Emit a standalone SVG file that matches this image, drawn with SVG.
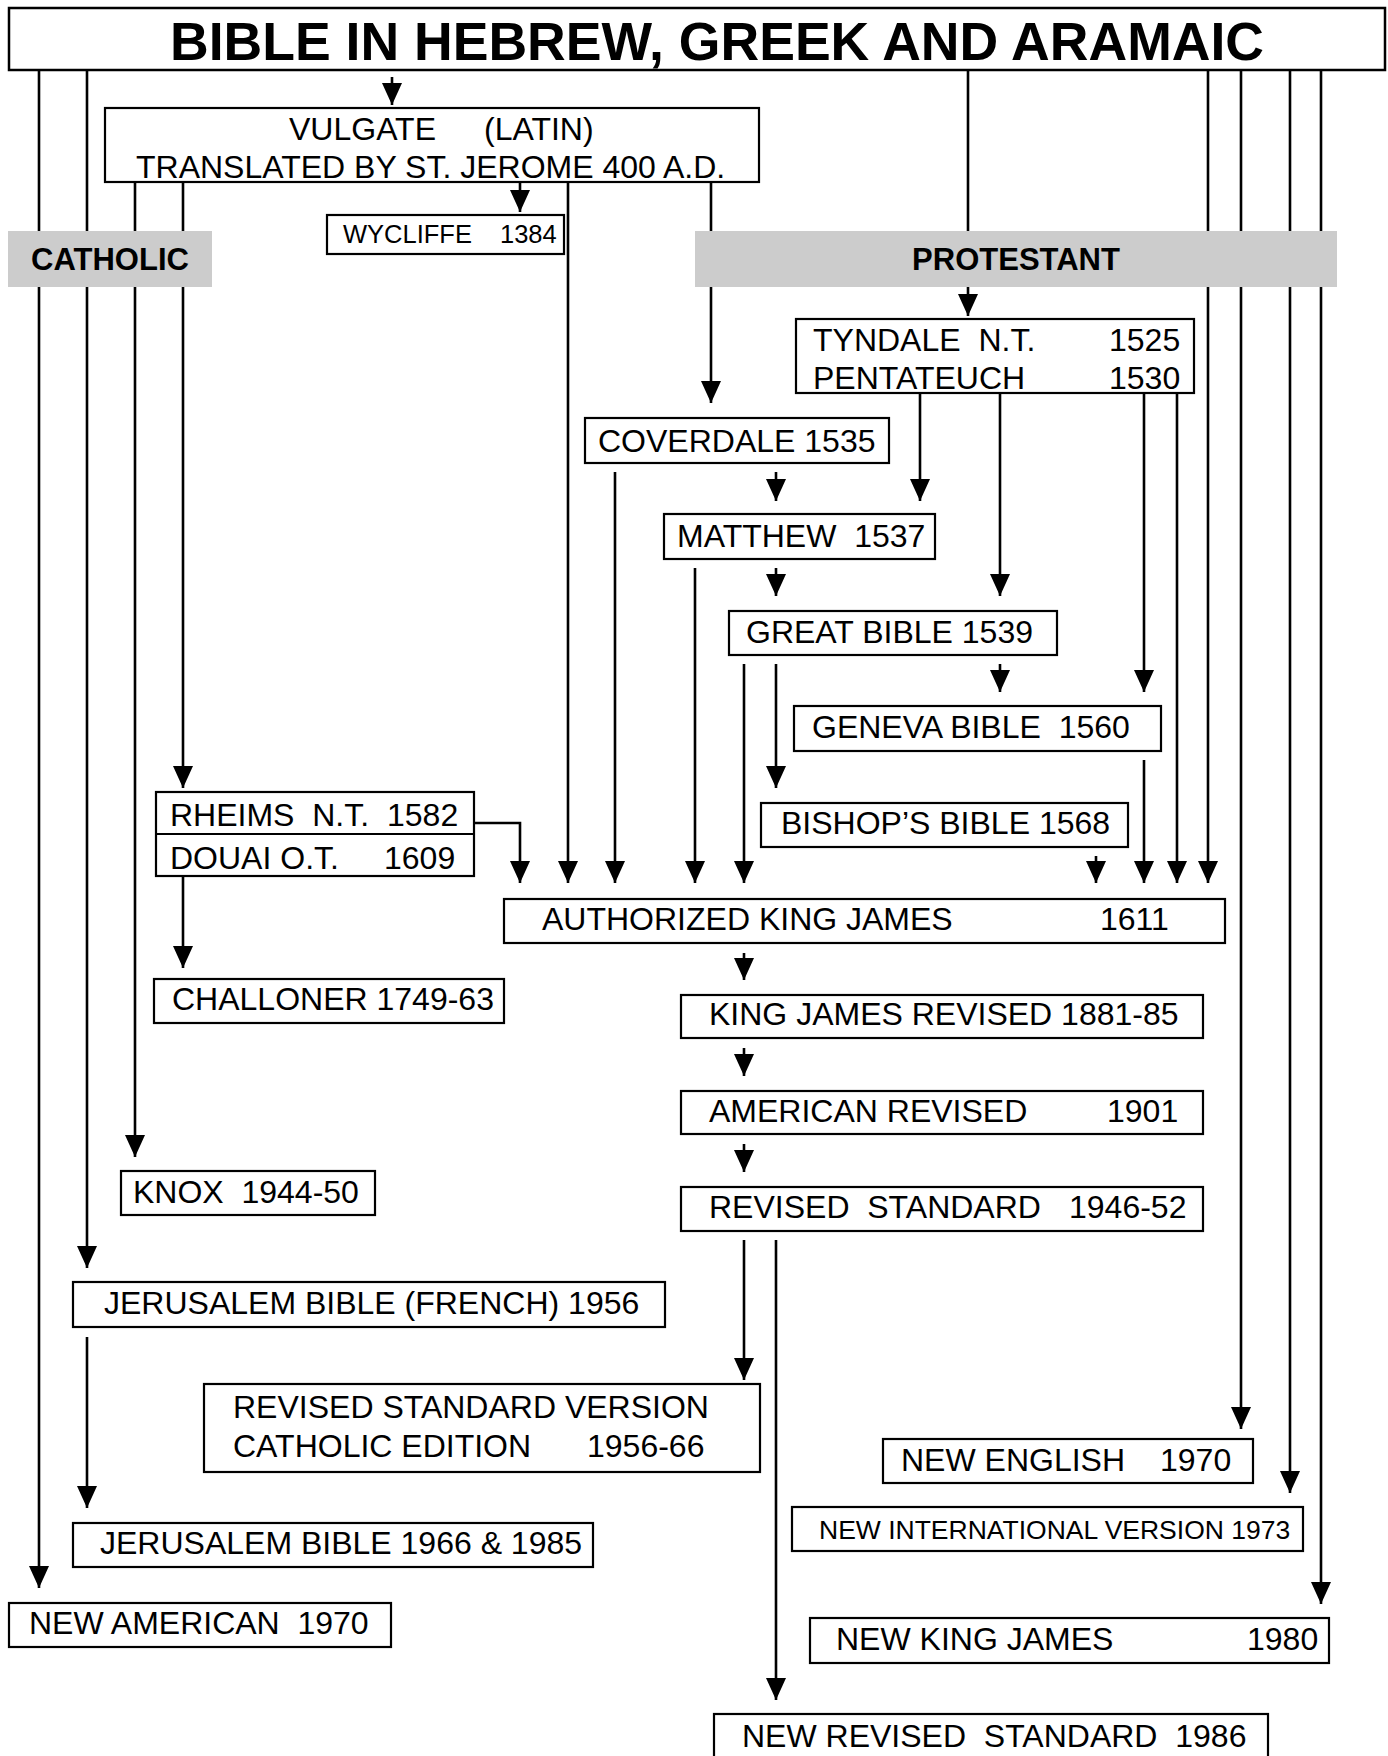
<svg xmlns="http://www.w3.org/2000/svg" width="1388" height="1756" viewBox="0 0 1388 1756">
<style>
.box{fill:#fff;stroke:#000;stroke-width:2.2}
.band{fill:#cccccc;stroke:none}
.t{font-family:"Liberation Sans",Arial,sans-serif;font-size:32px;fill:#000}
.s{font-size:25.5px}
.b{font-weight:bold;font-size:31px}
.c{fill:none;stroke:#000;stroke-width:2.6;marker-end:url(#ah)}
.n{fill:none;stroke:#000;stroke-width:2.6}
</style>
<defs>
<marker id="ah" markerUnits="userSpaceOnUse" markerWidth="22" markerHeight="20" viewBox="0 0 22 20" refX="22" refY="10" orient="auto">
<path d="M0,0 L22,10 L0,20 z" fill="#000"/>
</marker>
</defs>
<rect width="1388" height="1756" fill="#fff"/>
<g id="connectors">
<path class="c" d="M39,70 V1588"/>
<path class="c" d="M87,70 V1268"/>
<path class="c" d="M87,1337 V1508"/>
<path class="c" d="M392,77 V105"/>
<path class="c" d="M968,70 V316"/>
<path class="c" d="M1208,70 V883"/>
<path class="c" d="M1241,70 V1429"/>
<path class="c" d="M1290,70 V1493"/>
<path class="c" d="M1321,70 V1604"/>
<path class="c" d="M135,182 V1157"/>
<path class="c" d="M183,182 V788"/>
<path class="c" d="M520,182 V212"/>
<path class="c" d="M568,182 V883"/>
<path class="c" d="M711,182 V403"/>
<path class="c" d="M474,823 H520 V883"/>
<path class="c" d="M183,876 V968"/>
<path class="c" d="M615,472 V883"/>
<path class="c" d="M776,472 V501"/>
<path class="c" d="M920,393 V501"/>
<path class="c" d="M1000,393 V596"/>
<path class="c" d="M1144,393 V692"/>
<path class="c" d="M1177,393 V883"/>
<path class="c" d="M695,568 V883"/>
<path class="c" d="M776,568 V596"/>
<path class="c" d="M744,664 V883"/>
<path class="c" d="M776,664 V788"/>
<path class="c" d="M1000,664 V692"/>
<path class="c" d="M1144,760 V883"/>
<path class="c" d="M1096,856 V883"/>
<path class="c" d="M744,953 V980"/>
<path class="c" d="M744,1048 V1076"/>
<path class="c" d="M744,1144 V1172"/>
<path class="c" d="M744,1240 V1380"/>
<path class="c" d="M776,1240 V1700"/>
</g>
<g id="title">
<rect class="box" x="9" y="8" width="1376" height="62" style="stroke-width:2.5"/>
<text class="t" x="170" y="60" style="font-weight:bold;font-size:53px" textLength="1094" lengthAdjust="spacingAndGlyphs">BIBLE IN HEBREW, GREEK AND ARAMAIC</text>
</g>
<g id="vulgate">
<rect class="box" x="105" y="108" width="654" height="74"/>
<text class="t" y="140"><tspan x="289">VULGATE</tspan><tspan x="484">(LATIN)</tspan></text>
<text class="t" x="136" y="178">TRANSLATED BY ST. JEROME 400 A.D.</text>
</g>
<g id="wycliffe">
<rect class="box" x="327" y="215" width="237" height="39"/>
<text class="t s" y="243"><tspan x="343">WYCLIFFE</tspan><tspan x="500">1384</tspan></text>
</g>
<g id="catholic">
<rect class="band" x="8" y="231" width="204" height="56"/>
<text class="t b" x="110" y="270" text-anchor="middle">CATHOLIC</text>
</g>
<g id="protestant">
<rect class="band" x="695" y="231" width="642" height="56"/>
<text class="t b" x="1016" y="270" text-anchor="middle">PROTESTANT</text>
</g>
<g id="tyndale">
<rect class="box" x="796" y="319" width="398" height="74"/>
<text class="t" y="351" xml:space="preserve"><tspan x="813">TYNDALE  N.T.</tspan><tspan x="1109">1525</tspan></text>
<text class="t" y="389"><tspan x="813">PENTATEUCH</tspan><tspan x="1109">1530</tspan></text>
</g>
<g id="coverdale">
<rect class="box" x="585" y="418" width="304" height="45"/>
<text class="t" x="598" y="452">COVERDALE 1535</text>
</g>
<g id="matthew">
<rect class="box" x="664" y="514" width="271" height="45"/>
<text class="t" x="677" y="547" xml:space="preserve">MATTHEW  1537</text>
</g>
<g id="great-bible">
<rect class="box" x="729" y="611" width="328" height="44"/>
<text class="t" x="746" y="643">GREAT BIBLE 1539</text>
</g>
<g id="geneva">
<rect class="box" x="794" y="706" width="367" height="45"/>
<text class="t" x="812" y="738" xml:space="preserve">GENEVA BIBLE  1560</text>
</g>
<g id="bishops">
<rect class="box" x="761" y="803" width="367" height="44"/>
<text class="t" x="781" y="834">BISHOP’S BIBLE 1568</text>
</g>
<g id="rheims-douai">
<rect class="box" x="156" y="792" width="318" height="84"/>
<line class="n" x1="156" y1="834" x2="474" y2="834" style="stroke-width:2.2"/>
<text class="t" y="826" xml:space="preserve"><tspan x="170">RHEIMS  N.T.</tspan><tspan x="387">1582</tspan></text>
<text class="t" y="869"><tspan x="170">DOUAI O.T.</tspan><tspan x="384">1609</tspan></text>
</g>
<g id="kjv">
<rect class="box" x="504" y="899" width="721" height="44"/>
<text class="t" y="930"><tspan x="542">AUTHORIZED KING JAMES</tspan><tspan x="1100">1611</tspan></text>
</g>
<g id="challoner">
<rect class="box" x="154" y="979" width="350" height="44"/>
<text class="t" x="172" y="1010">CHALLONER 1749-63</text>
</g>
<g id="kj-revised">
<rect class="box" x="681" y="995" width="522" height="43"/>
<text class="t" x="709" y="1025">KING JAMES REVISED 1881-85</text>
</g>
<g id="american-revised">
<rect class="box" x="681" y="1091" width="522" height="43"/>
<text class="t" y="1122"><tspan x="709">AMERICAN REVISED</tspan><tspan x="1107">1901</tspan></text>
</g>
<g id="knox">
<rect class="box" x="121" y="1171" width="254" height="44"/>
<text class="t" x="133" y="1203" xml:space="preserve">KNOX  1944-50</text>
</g>
<g id="revised-standard">
<rect class="box" x="681" y="1187" width="522" height="44"/>
<text class="t" y="1218" xml:space="preserve"><tspan x="709">REVISED  STANDARD</tspan><tspan x="1069">1946-52</tspan></text>
</g>
<g id="jerusalem-french">
<rect class="box" x="73" y="1282" width="592" height="45"/>
<text class="t" x="104" y="1314">JERUSALEM BIBLE (FRENCH) 1956</text>
</g>
<g id="rsv-ce">
<rect class="box" x="204" y="1384" width="556" height="88"/>
<text class="t" x="233" y="1418">REVISED STANDARD VERSION</text>
<text class="t" y="1457"><tspan x="233">CATHOLIC EDITION</tspan><tspan x="587">1956-66</tspan></text>
</g>
<g id="new-english">
<rect class="box" x="883" y="1439" width="370" height="44"/>
<text class="t" y="1471"><tspan x="901">NEW ENGLISH</tspan><tspan x="1160">1970</tspan></text>
</g>
<g id="niv">
<rect class="box" x="792" y="1507" width="511" height="44"/>
<text class="t" x="819" y="1539" style="font-size:26.5px">NEW INTERNATIONAL VERSION 1973</text>
</g>
<g id="jerusalem-1966">
<rect class="box" x="73" y="1523" width="520" height="44"/>
<text class="t" x="100" y="1554">JERUSALEM BIBLE 1966 &amp; 1985</text>
</g>
<g id="new-american">
<rect class="box" x="9" y="1603" width="382" height="44"/>
<text class="t" x="29" y="1634" xml:space="preserve">NEW AMERICAN  1970</text>
</g>
<g id="new-king-james">
<rect class="box" x="810" y="1618" width="519" height="45"/>
<text class="t" y="1650"><tspan x="836">NEW KING JAMES</tspan><tspan x="1247">1980</tspan></text>
</g>
<g id="nrs">
<rect class="box" x="714" y="1714" width="554" height="50"/>
<text class="t" x="742" y="1747" xml:space="preserve">NEW REVISED  STANDARD  1986</text>
</g>
</svg>
